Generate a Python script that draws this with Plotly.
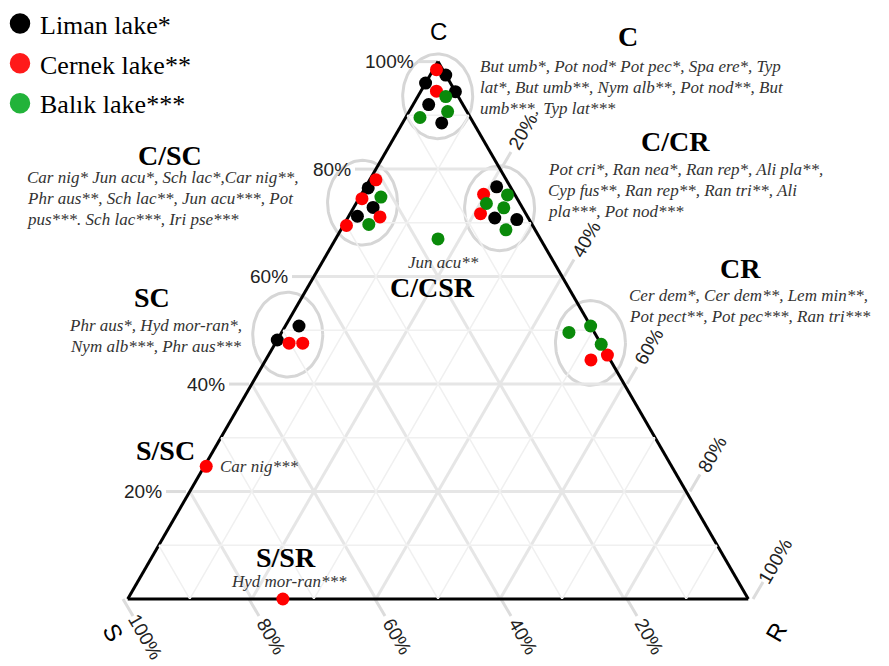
import math
import plotly.graph_objects as go

# ---------------- data (C, S, R fractions) ----------------
lakes = ["Liman lake*", "Cernek lake**", "Balık lake***"]
point_colors = ["#000000", "#ff0000", "#0a8a0a"]
legend_colors = ["#000000", "#ff1a1a", "#22b33a"]

liman_C = [0.975, 0.960, 0.944, 0.920, 0.886, 0.765, 0.728, 0.713, 0.767, 0.709, 0.706, 0.508, 0.482]
liman_S = [0.000, 0.040, 0.000, 0.055, 0.051, 0.230, 0.240, 0.274, 0.022, 0.054, 0.020, 0.470, 0.518]
liman_R = [0.025, 0.000, 0.056, 0.025, 0.063, 0.005, 0.031, 0.014, 0.211, 0.237, 0.274, 0.022, 0.000]
liman_grp = ["C", "C", "C", "C", "C", "C/SC", "C/SC", "C/SC", "C/CR", "C/CR", "C/CR", "SC", "SC"]

cernek_C = [0.985, 0.945, 0.780, 0.745, 0.711, 0.695, 0.753, 0.717, 0.454, 0.445, 0.476, 0.476, 0.247, 0.000]
cernek_S = [0.010, 0.030, 0.210, 0.250, 0.238, 0.300, 0.050, 0.073, 0.000, 0.031, 0.502, 0.480, 0.750, 0.750]
cernek_R = [0.005, 0.025, 0.010, 0.005, 0.051, 0.005, 0.197, 0.210, 0.546, 0.524, 0.022, 0.044, 0.003, 0.250]
cernek_grp = ["C", "C", "C/SC", "C/SC", "C/SC", "C/SC", "C/CR", "C/CR", "CR", "CR", "SC", "SC", "S/SC", "S/SR"]

balik_C = [0.935, 0.907, 0.896, 0.748, 0.697, 0.752, 0.736, 0.728, 0.687, 0.670, 0.496, 0.508, 0.474]
balik_S = [0.020, 0.031, 0.081, 0.218, 0.263, 0.012, 0.054, 0.030, 0.047, 0.165, 0.041, 0.000, 0.000]
balik_R = [0.045, 0.062, 0.023, 0.034, 0.040, 0.236, 0.210, 0.242, 0.266, 0.165, 0.463, 0.492, 0.526]
balik_grp = ["C", "C", "C", "C/SC", "C/SC", "C/CR", "C/CR", "C/CR", "C/CR", "C/CSR", "CR", "CR", "CR"]

circled_groups = ["C", "C/SC", "C/CR", "CR", "SC"]

major_vals = [0.2, 0.4, 0.6, 0.8, 1.0]
major_text = ["20%", "40%", "60%", "80%", "100%"]
minor_vals = [0.1, 0.3, 0.5, 0.7, 0.9]
axis_titles = ["C", "S", "R"]

labels_bold = ["C", "C/SC", "C/CR", "C/CSR", "CR", "SC", "S/SC", "S/SR"]
species_C = ["But umb*, Pot nod* Pot pec*, Spa ere*, Typ",
             "lat*, But umb**, Nym alb**, Pot nod**, But",
             "umb***, Typ lat***"]
species_CSC = ["Car nig* Jun acu*, Sch lac*,Car nig**,",
               "Phr aus**, Sch lac**, Jun acu***, Pot",
               "pus***. Sch lac***, Iri pse***"]
species_CCR = ["Pot cri*, Ran nea*, Ran rep*, Ali pla**,",
               "Cyp fus**, Ran rep**, Ran tri**, Ali",
               "pla***, Pot nod***"]
species_CR = ["Cer dem*, Cer dem**, Lem min**,",
              "Pot pect**, Pot pec***, Ran tri***"]
species_SC = ["Phr aus*, Hyd mor-ran*,",
              "Nym alb***, Phr aus***"]
species_SSC = ["Car nig***"]
species_SSR = ["Hyd mor-ran***"]
species_CCSR = ["Jun acu**"]

# ---------------- geometry / style ----------------
W, H = 889, 666
TRI_L, TRI_R, TRI_B = 123, 753, 598
SIDE = TRI_R - TRI_L
SQ = math.sqrt(3) / 2
TRI_T = TRI_B - SIDE * SQ

def to_xy(C, R):
    return R + C / 2, C * SQ

fig = go.Figure()

# minor grid lines (from minor tick values)
for v in minor_vals:
    for a, b, c in [([v, v], [1 - v, 0], [0, 1 - v]),
                    ([1 - v, 0], [v, v], [0, 1 - v]),
                    ([1 - v, 0], [0, 1 - v], [v, v])]:
        fig.add_trace(go.Scatterternary(a=a, b=b, c=c, mode="lines",
                                        line=dict(color="#f0f0f0", width=1.5),
                                        showlegend=False, hoverinfo="skip"))

# ellipses around clusters (cartesian overlay aligned with the triangle)
RX, RY = 35 / SIDE, 43 / SIDE
allC = liman_C + cernek_C + balik_C
allR = liman_R + cernek_R + balik_R
allG = liman_grp + cernek_grp + balik_grp
for g in circled_groups:
    idx = [i for i, gg in enumerate(allG) if gg == g]
    pts = [to_xy(allC[i], allR[i]) for i in idx]
    xs = [p[0] for p in pts]
    ys = [p[1] for p in pts]
    cx = (min(xs) + max(xs)) / 2
    cy = (min(ys) + max(ys)) / 2
    ts = [2 * math.pi * k / 120 for k in range(121)]
    fig.add_trace(go.Scatter(x=[cx + RX * math.cos(t) for t in ts],
                             y=[cy + RY * math.sin(t) for t in ts],
                             mode="lines", line=dict(color="#d6d6d6", width=3),
                             showlegend=False, hoverinfo="skip"))

# outer tick marks (extensions of the major grid lines)
TL = 20 / SIDE
for v in major_vals:
    x0, y0 = to_xy(v, 0)            # C ticks on left edge, horizontal
    x1, y1 = to_xy(0, 1 - v)        # S ticks on bottom edge
    x2, y2 = to_xy(1 - v, v)        # R ticks on right edge
    for xa, ya, dx, dy in [(x0, y0, -1, 0), (x1, y1, 0.5, -SQ), (x2, y2, 0.5, SQ)]:
        fig.add_trace(go.Scatter(x=[xa, xa + TL * dx], y=[ya, ya + TL * dy], mode="lines",
                                 line=dict(color="#dcdcdc", width=3),
                                 showlegend=False, hoverinfo="skip"))

# data points
for name, col, C, S, R in [(lakes[0], point_colors[0], liman_C, liman_S, liman_R),
                           (lakes[1], point_colors[1], cernek_C, cernek_S, cernek_R),
                           (lakes[2], point_colors[2], balik_C, balik_S, balik_R)]:
    fig.add_trace(go.Scatterternary(a=C, b=S, c=R, mode="markers", name=name,
                                    marker=dict(color=col, size=13),
                                    showlegend=False, cliponaxis=False))

# legend keys
for k, name in enumerate(lakes):
    fig.add_trace(go.Scatterternary(a=[None], b=[None], c=[None], mode="markers", name=name,
                                    legendgroup=name,
                                    marker=dict(color=legend_colors[k], size=16,
                                                line=dict(color=legend_colors[k], width=4.5))))

SERIF = "Liberation Serif"
SANS = "Liberation Sans"
ann = []

def X(px):
    return px / W

def Y(py):
    return 1 - py / H

def bold(text, x, y, size=28):
    ann.append(dict(text="<b>%s</b>" % text, x=X(x), y=Y(y), xref="paper", yref="paper",
                    showarrow=False, font=dict(family=SERIF, size=size, color="#000"),
                    xanchor="center", yanchor="middle"))

LINE = 21.5
def ital(lines, x, y, xanchor="left", size=17):
    for i, t in enumerate(lines):
        ann.append(dict(text="<i>%s</i>" % t, x=X(x), y=Y(y + i * LINE),
                        xref="paper", yref="paper", showarrow=False,
                        font=dict(family=SERIF, size=size, color="#333"),
                        xanchor=xanchor, yanchor="middle"))

bold(labels_bold[0], 628, 27)
ital(species_C, 478, 57)
bold(labels_bold[1], 170, 148)
ital(species_CSC, 25, 170)
bold(labels_bold[2], 675, 134)
ital(species_CCR, 546, 162)
ital(species_CCSR, 443, 256, xanchor="center")
bold(labels_bold[3], 432, 282)
bold(labels_bold[4], 740, 262)
ital(species_CR, 627, 290)
bold(labels_bold[5], 152, 292)
ital(species_SC, 244, 320, xanchor="right")
bold(labels_bold[6], 165, 447)
ital(species_SSC, 218, 463)
bold(labels_bold[7], 286, 556)
ital(species_SSR, 289, 580, xanchor="center")

# tick labels and corner titles, placed in triangle coordinates
GAP_C = 22 / SIDE
D_LAB = 44 / SIDE
tickfont = dict(family=SANS, size=19, color="#222")
for v, t in zip(major_vals, major_text):
    x0, y0 = to_xy(v, 0)
    ann.append(dict(text=t, x=x0 - GAP_C, y=y0, xref="x", yref="y", showarrow=False,
                    font=tickfont, xanchor="right", yanchor="middle"))
    x1, y1 = to_xy(0, 1 - v)
    ann.append(dict(text=t, x=x1 + D_LAB * 0.5, y=y1 - D_LAB * SQ, xref="x", yref="y",
                    showarrow=False, font=tickfont, textangle=60,
                    xanchor="center", yanchor="middle"))
    x2, y2 = to_xy(1 - v, v)
    ann.append(dict(text=t, x=x2 + D_LAB * 0.5, y=y2 + D_LAB * SQ, xref="x", yref="y",
                    showarrow=False, font=tickfont, textangle=-60,
                    xanchor="center", yanchor="middle"))

titlefont = dict(family=SANS, size=24, color="#000")
ax_, ay_ = to_xy(1, 0)
ann.append(dict(text=axis_titles[0], x=ax_, y=ay_ + 31 / SIDE, xref="x", yref="y",
                showarrow=False, font=titlefont, xanchor="center", yanchor="middle"))
bx_, by_ = to_xy(0, 0)
ann.append(dict(text=axis_titles[1], x=bx_ - 10 / SIDE, y=by_ - 34 / SIDE, xref="x", yref="y",
                showarrow=False, font=titlefont, textangle=60,
                xanchor="center", yanchor="middle"))
cx_, cy_ = to_xy(0, 1)
ann.append(dict(text=axis_titles[2], x=cx_ + 23 / SIDE, y=cy_ - 34 / SIDE, xref="x", yref="y",
                showarrow=False, font=titlefont, textangle=-60,
                xanchor="center", yanchor="middle"))

GRID = "#e6e6e6"
axis_common = dict(tickvals=major_vals, showgrid=True, gridcolor=GRID, gridwidth=2.5,
                   showline=True, linecolor="#000", linewidth=3, ticks="",
                   showticklabels=False, title=dict(text=""), layer="below traces")

fig.update_layout(
    width=W, height=H,
    margin=dict(l=0, r=0, t=0, b=0),
    paper_bgcolor="white",
    plot_bgcolor="rgba(0,0,0,0)",
    xaxis=dict(domain=[0, 1], range=[-TRI_L / SIDE, (W - TRI_L) / SIDE], visible=False,
               fixedrange=True),
    yaxis=dict(domain=[0, 1], range=[-(H - TRI_B) / SIDE, TRI_B / SIDE], visible=False,
               fixedrange=True),
    ternary=dict(
        sum=1,
        bgcolor="rgba(0,0,0,0)",
        domain=dict(x=[TRI_L / W, TRI_R / W], y=[1 - TRI_B / H, 1 - TRI_T / H]),
        aaxis=axis_common, baxis=axis_common, caxis=axis_common,
    ),
    legend=dict(x=0.0, y=1.015, xanchor="left", yanchor="top",
                font=dict(family=SERIF, size=26, color="#000"),
                traceorder="grouped", tracegroupgap=3, bgcolor="rgba(0,0,0,0)"),
    annotations=ann,
    showlegend=True,
)

fig.write_html("out.html", config={"displayModeBar": False},
               post_script="document.body.style.margin='0';")
